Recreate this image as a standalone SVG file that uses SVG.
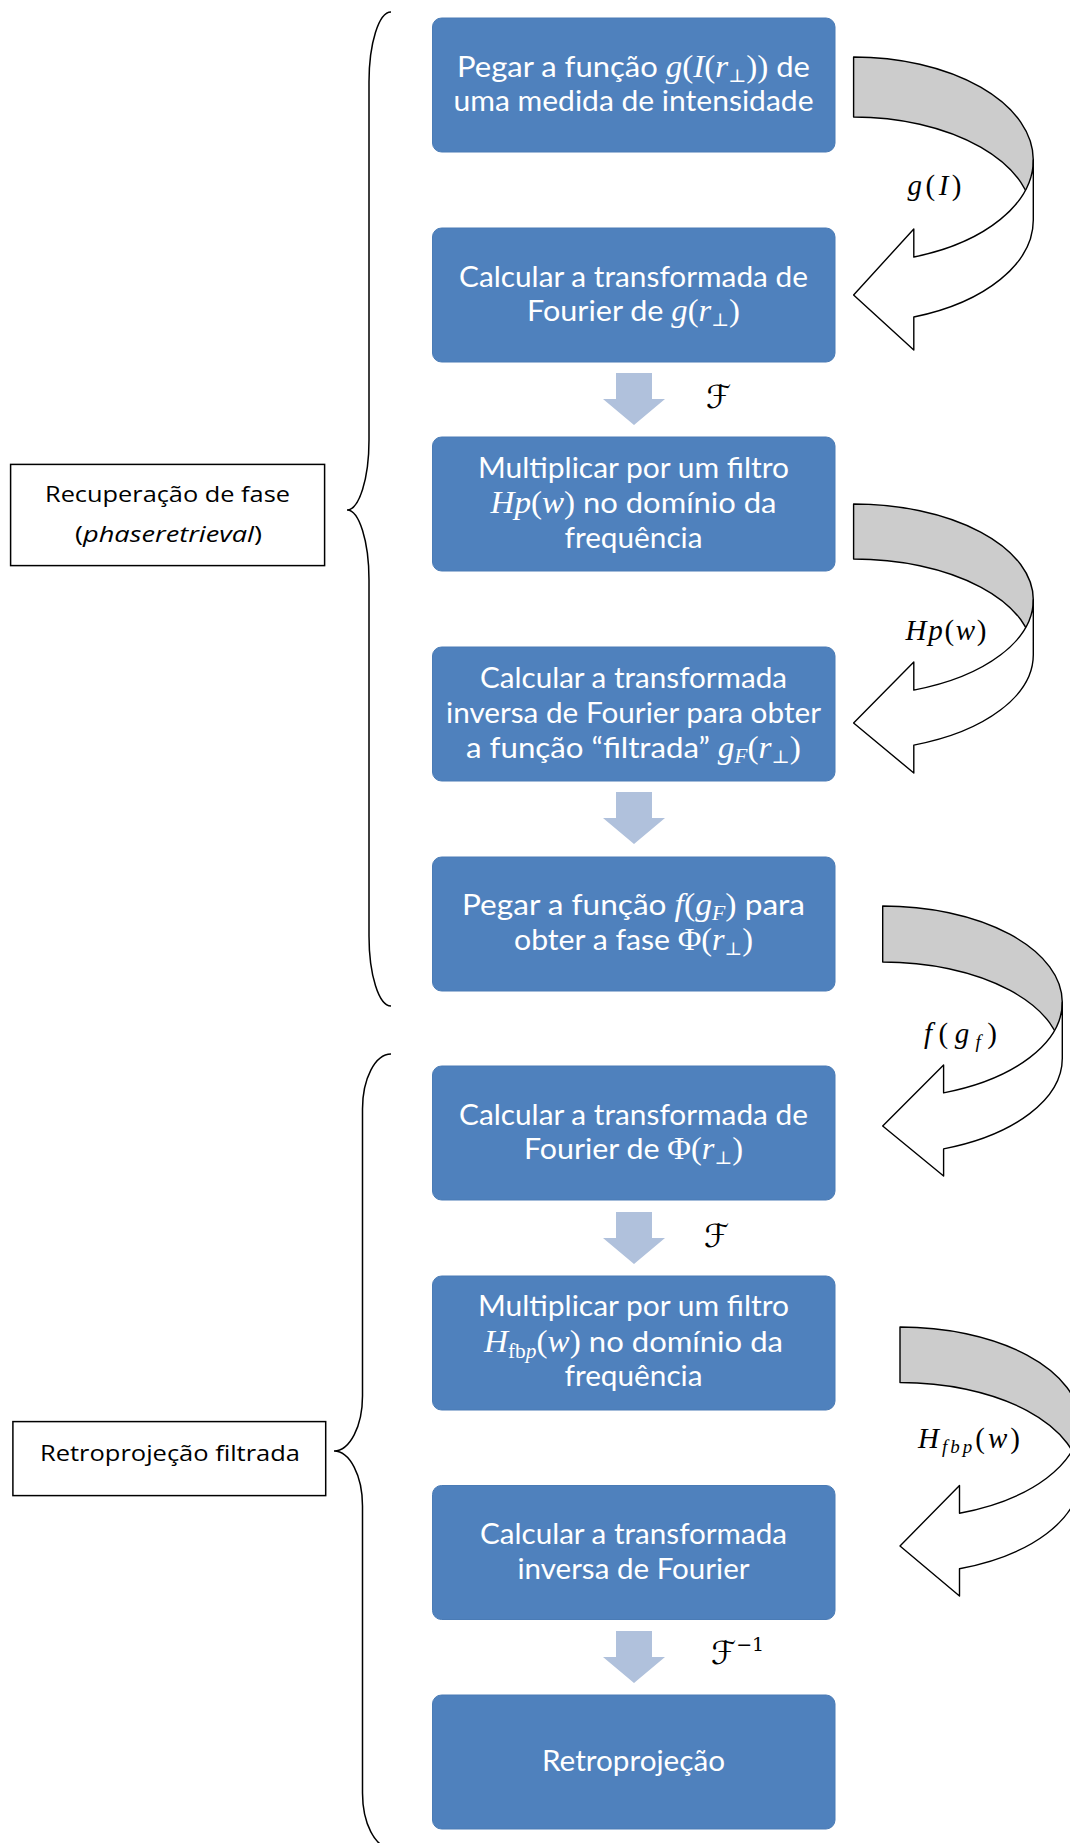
<svg xmlns="http://www.w3.org/2000/svg" width="1070" height="1843" viewBox="0 0 1070 1843">
<style>
.box{fill:#4F81BD;stroke:#4A7BB5;stroke-width:1}
.bt{font-family:Lato,"Liberation Sans",sans-serif;font-size:29px;fill:#fff;text-anchor:middle}
.mi{font-family:"Liberation Serif","DejaVu Serif",serif;font-style:italic;font-size:31px}
.mu{font-family:"Liberation Serif","DejaVu Serif",serif;font-style:normal;font-size:31px}
.sb{font-family:"DejaVu Serif","Liberation Serif",serif;font-size:18px}
.si{font-family:"Liberation Serif","DejaVu Serif",serif;font-style:italic;font-size:20px}
.su{font-family:"Liberation Serif","DejaVu Serif",serif;font-style:normal;font-size:20px}
.dn{fill:#B0C1DC}
.back{fill:#CCCCCC;stroke:#000;stroke-width:1.4;stroke-linejoin:round}
.front{fill:#fff;stroke:#000;stroke-width:1.4;stroke-linejoin:round}
.brace{fill:none;stroke:#000;stroke-width:1.5}
.lbl{fill:#fff;stroke:#000;stroke-width:1.5}
.lt{font-family:"Open Sans","Noto Sans",sans-serif;font-size:22px;fill:#000;text-anchor:middle}
.ml{font-family:"Liberation Serif","DejaVu Serif",serif;font-size:29px;fill:#000}
.sc{font-family:"DejaVu Serif","DejaVu Sans",serif;font-size:32px;fill:#000}
</style>

<g id="connectors">
  <path class="dn" d="M616,373 L652,373 L652,399 L665,399 L634,425 L603,399 L616,399 Z"/>
  <path class="dn" d="M616,792 L652,792 L652,818 L665,818 L634,844 L603,818 L616,818 Z"/>
  <path class="dn" d="M616,1212 L652,1212 L652,1238 L665,1238 L634,1264 L603,1238 L616,1238 Z"/>
  <path class="dn" d="M616,1631 L652,1631 L652,1657 L665,1657 L634,1683 L603,1657 L616,1657 Z"/>

  <path class="back" d="M853.6,57 A179.7,103 0 0 1 1033.3,160 L1033.3,220 A179.7,103 0 0 0 853.6,117 Z"/>
  <path class="front" d="M1033.3,160 A179.7,103 0 0 1 913.8,257 L913.8,229 L853.6,295 L913.8,350 L913.8,317 A179.7,103 0 0 0 1033.3,220 Z"/>

  <path class="back" d="M853.6,504 A179.7,95.8 0 0 1 1033.3,599.8 L1033.3,654.8 A179.7,95.8 0 0 0 853.6,559 Z"/>
  <path class="front" d="M1033.3,599.8 A179.7,95.8 0 0 1 913.8,690.1 L913.8,662 L853.6,723 L913.8,773 L913.8,745.1 A179.7,95.8 0 0 0 1033.3,654.8 Z"/>

  <path class="back" d="M882.7,906 A179.6,96.3 0 0 1 1062.3,1002.3 L1062.3,1058.3 A179.6,96.3 0 0 0 882.7,962 Z"/>
  <path class="front" d="M1062.3,1002.3 A179.6,96.3 0 0 1 943.6,1092.9 L943.6,1065 L882.7,1126 L943.6,1176 L943.6,1148.9 A179.6,96.3 0 0 0 1062.3,1058.3 Z"/>

  <path class="back" d="M900,1327 A179.6,95.8 0 0 1 1079.6,1422.8 L1079.6,1478.3 A179.6,95.8 0 0 0 900,1382.5 Z"/>
  <path class="front" d="M1079.6,1422.8 A179.6,95.8 0 0 1 959.5,1513.2 L959.5,1485.5 L900,1546 L959.5,1596 L959.5,1568.7 A179.6,95.8 0 0 0 1079.6,1478.3 Z"/>

  <path class="brace" d="M391,12 A22,70 0 0 0 369,82 L369,440 A22,70 0 0 1 347,510 A22,70 0 0 1 369,580 L369,936 A22,70 0 0 0 391,1006"/>
  <path class="brace" d="M391,1054 A28.5,55 0 0 0 362.5,1109 L362.5,1396 A28.5,55 0 0 1 334,1451 A28.5,55 0 0 1 362.5,1506 L362.5,1793 A28.5,55 0 0 0 391,1848"/>

  <text class="ml" x="907.5" y="195" textLength="54" lengthAdjust="spacing"><tspan font-style="italic">g</tspan>(<tspan font-style="italic">I</tspan>)</text>
  <text class="ml" x="905.5" y="640" textLength="81" lengthAdjust="spacing"><tspan font-style="italic">Hp</tspan>(<tspan font-style="italic">w</tspan>)</text>
  <text class="ml" x="924" y="1043" textLength="73" lengthAdjust="spacing"><tspan font-style="italic">f</tspan>(<tspan font-style="italic">g</tspan><tspan font-style="italic" font-size="19" dy="5">f</tspan><tspan dy="-5">)</tspan></text>
  <text class="ml" x="918" y="1448" textLength="102" lengthAdjust="spacing"><tspan font-style="italic">H</tspan><tspan font-style="italic" font-size="19" dy="5">fbp</tspan><tspan dy="-5">(</tspan><tspan font-style="italic">w</tspan>)</text>
  <text class="sc" x="706" y="408">ℱ</text>
  <text class="sc" x="704" y="1247">ℱ</text>
  <text class="sc" x="711" y="1664">ℱ<tspan font-size="19" dy="-13">−1</tspan></text>
</g>

<g id="n1">
  <rect class="box" x="432.5" y="18" width="402.5" height="134" rx="9"/>
  <text class="bt" x="633.5" y="77" textLength="353" lengthAdjust="spacingAndGlyphs">Pegar a função <tspan class="mi">g</tspan><tspan class="mu">(</tspan><tspan class="mi">I</tspan><tspan class="mu">(</tspan><tspan class="mi">r</tspan><tspan class="sb" dy="5">⊥</tspan><tspan class="mu" dy="-5">))</tspan> de</text>
  <text class="bt" x="633.5" y="111" textLength="360" lengthAdjust="spacingAndGlyphs">uma medida de intensidade</text>
</g>
<g id="n2">
  <rect class="box" x="432.5" y="228" width="402.5" height="134" rx="9"/>
  <text class="bt" x="633.5" y="287" textLength="349" lengthAdjust="spacingAndGlyphs">Calcular a transformada de</text>
  <text class="bt" x="633.5" y="321" textLength="213" lengthAdjust="spacingAndGlyphs">Fourier de <tspan class="mi">g</tspan><tspan class="mu">(</tspan><tspan class="mi">r</tspan><tspan class="sb" dy="5">⊥</tspan><tspan class="mu" dy="-5">)</tspan></text>
</g>
<g id="n3">
  <rect class="box" x="432.5" y="437" width="402.5" height="134" rx="9"/>
  <text class="bt" x="633.5" y="478" textLength="311" lengthAdjust="spacingAndGlyphs">Multiplicar por um filtro</text>
  <text class="bt" x="633.5" y="513" textLength="286" lengthAdjust="spacingAndGlyphs"><tspan class="mi">Hp</tspan><tspan class="mu">(</tspan><tspan class="mi">w</tspan><tspan class="mu">)</tspan> no domínio da</text>
  <text class="bt" x="633.5" y="548" textLength="138" lengthAdjust="spacingAndGlyphs">frequência</text>
</g>
<g id="n4">
  <rect class="box" x="432.5" y="647" width="402.5" height="134" rx="9"/>
  <text class="bt" x="633.5" y="688" textLength="307" lengthAdjust="spacingAndGlyphs">Calcular a transformada</text>
  <text class="bt" x="633.5" y="723" textLength="375" lengthAdjust="spacingAndGlyphs">inversa de Fourier para obter</text>
  <text class="bt" x="633.5" y="758" textLength="335" lengthAdjust="spacingAndGlyphs">a função “filtrada” <tspan class="mi">g</tspan><tspan class="si" dy="5">F</tspan><tspan class="mu" dy="-5">(</tspan><tspan class="mi">r</tspan><tspan class="sb" dy="5">⊥</tspan><tspan class="mu" dy="-5">)</tspan></text>
</g>
<g id="n5">
  <rect class="box" x="432.5" y="857" width="402.5" height="134" rx="9"/>
  <text class="bt" x="633.5" y="915" textLength="343" lengthAdjust="spacingAndGlyphs">Pegar a função <tspan class="mi">f</tspan><tspan class="mu">(</tspan><tspan class="mi">g</tspan><tspan class="si" dy="5">F</tspan><tspan class="mu" dy="-5">)</tspan> para</text>
  <text class="bt" x="633.5" y="950" textLength="239" lengthAdjust="spacingAndGlyphs">obter a fase <tspan class="mu">Φ(</tspan><tspan class="mi">r</tspan><tspan class="sb" dy="5">⊥</tspan><tspan class="mu" dy="-5">)</tspan></text>
</g>
<g id="n6">
  <rect class="box" x="432.5" y="1066" width="402.5" height="134" rx="9"/>
  <text class="bt" x="633.5" y="1125" textLength="349" lengthAdjust="spacingAndGlyphs">Calcular a transformada de</text>
  <text class="bt" x="633.5" y="1159" textLength="219" lengthAdjust="spacingAndGlyphs">Fourier de <tspan class="mu">Φ(</tspan><tspan class="mi">r</tspan><tspan class="sb" dy="5">⊥</tspan><tspan class="mu" dy="-5">)</tspan></text>
</g>
<g id="n7">
  <rect class="box" x="432.5" y="1276" width="402.5" height="134" rx="9"/>
  <text class="bt" x="633.5" y="1316" textLength="311" lengthAdjust="spacingAndGlyphs">Multiplicar por um filtro</text>
  <text class="bt" x="633.5" y="1352" textLength="299" lengthAdjust="spacingAndGlyphs"><tspan class="mi">H</tspan><tspan class="su" dy="6">fb</tspan><tspan class="si">p</tspan><tspan class="mu" dy="-6">(</tspan><tspan class="mi">w</tspan><tspan class="mu">)</tspan> no domínio da</text>
  <text class="bt" x="633.5" y="1386" textLength="138" lengthAdjust="spacingAndGlyphs">frequência</text>
</g>
<g id="n8">
  <rect class="box" x="432.5" y="1485.5" width="402.5" height="134" rx="9"/>
  <text class="bt" x="633.5" y="1543.5" textLength="307" lengthAdjust="spacingAndGlyphs">Calcular a transformada</text>
  <text class="bt" x="633.5" y="1578.5" textLength="232" lengthAdjust="spacingAndGlyphs">inversa de Fourier</text>
</g>
<g id="n9">
  <rect class="box" x="432.5" y="1695" width="402.5" height="134" rx="9"/>
  <text class="bt" x="633.5" y="1771" textLength="183" lengthAdjust="spacingAndGlyphs">Retroprojeção</text>
</g>

<g id="labelA">
  <rect class="lbl" x="10.6" y="464.4" width="314" height="101.2"/>
  <text class="lt" x="167.5" y="502" textLength="245" lengthAdjust="spacingAndGlyphs">Recuperação de fase</text>
  <text class="lt" x="168.5" y="542" textLength="187" lengthAdjust="spacingAndGlyphs">(<tspan font-style="italic">phaseretrieval</tspan>)</text>
</g>
<g id="labelB">
  <rect class="lbl" x="12.9" y="1421.6" width="312.8" height="74"/>
  <text class="lt" x="170" y="1461" textLength="260" lengthAdjust="spacingAndGlyphs">Retroprojeção filtrada</text>
</g>
</svg>
